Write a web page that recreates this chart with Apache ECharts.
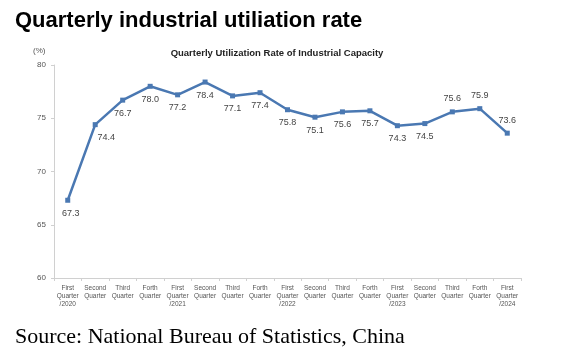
<!DOCTYPE html>
<html><head><meta charset="utf-8">
<script src="https://cdn.jsdelivr.net/npm/echarts@6/dist/echarts.min.js"></script>
<style>html,body{margin:0;padding:0;background:#fff;}#c{width:568px;height:363px;}</style>
</head><body><div id="c"></div>
<script>
const categories = ['First\nQuarter\n/2020','Second\nQuarter','Third\nQuarter','Forth\nQuarter',
 'First\nQuarter\n/2021','Second\nQuarter','Third\nQuarter','Forth\nQuarter',
 'First\nQuarter\n/2022','Second\nQuarter','Third\nQuarter','Forth\nQuarter',
 'First\nQuarter\n/2023','Second\nQuarter','Third\nQuarter','Forth\nQuarter',
 'First\nQuarter\n/2024'];
const rates = [67.3,74.4,76.7,78.0,77.2,78.4,77.1,77.4,75.8,75.1,75.6,75.7,74.3,74.5,75.6,75.9,73.6];
const yTicks = [60,65,70,75,80];

const chart = echarts.init(document.getElementById('c'));
chart.setOption({
  animation:false,
  backgroundColor:'#fff',
  title:[
    {text:'Quarterly industrial utiliation rate',left:10,top:5,textStyle:{fontFamily:'Liberation Sans',fontWeight:'bold',fontSize:22,color:'#000'}},
    {text:'Quarterly Utilization Rate of Industrial Capacity',left:272,top:43,textAlign:'center',textStyle:{fontFamily:'Liberation Sans',fontWeight:'bold',fontSize:9.5,color:'#222'}},
    {text:'(%)',left:28,top:42,textStyle:{fontFamily:'Liberation Sans',fontWeight:'normal',fontSize:8,color:'#555'}},
    {text:'Source: National Bureau of Statistics, China',left:10,top:321,textStyle:{fontFamily:'Liberation Serif',fontWeight:'normal',fontSize:22,color:'#000'}}
  ],
  grid:{left:54,right:47,top:65,bottom:85,containLabel:false},
  xAxis:{type:'category',data:categories,boundaryGap:true,
    axisLine:{lineStyle:{color:'#d0d0d0'}},
    axisTick:{show:true,length:3,lineStyle:{color:'#d0d0d0'}},
    axisLabel:{fontSize:6.5,color:'#555',lineHeight:8,interval:0,margin:6,fontFamily:'Liberation Sans'}},
  yAxis:{type:'value',min:yTicks[0],max:yTicks[yTicks.length-1],interval:5,
    splitLine:{show:false},
    axisLine:{show:true,lineStyle:{color:'#d0d0d0'}},
    axisTick:{show:true,length:3,lineStyle:{color:'#d0d0d0'}},
    axisLabel:{fontSize:8,color:'#555',margin:8,fontFamily:'Liberation Sans'}},
  series:[{type:'line',
    data:rates.map((v,i)=>({value:v,label:{position: i>=14?'top':'bottom',offset:[i===1?11:(i===0?3:0),0]}})),
    symbol:'rect',symbolSize:5,
    lineStyle:{color:'#4a78b2',width:2.5},
    itemStyle:{color:'#4a78b2'},
    label:{show:true,fontSize:9,color:'#444',distance:6,fontFamily:'Liberation Sans',formatter:p=>p.value.toFixed(1)}
  }]
});
</script></body></html>
